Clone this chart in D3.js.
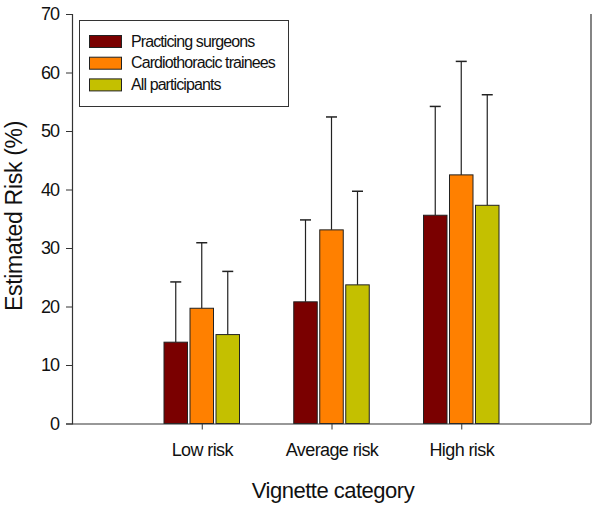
<!DOCTYPE html>
<html><head><meta charset="utf-8">
<script src="https://cdn.jsdelivr.net/npm/d3@7"></script>
<style>body{margin:0;background:#fff}svg{display:block;font-family:"Liberation Sans",Arial,sans-serif}</style>
</head><body><svg id="c" width="602" height="509"></svg>
<script>
const categories = ["Low risk", "Average risk", "High risk"];
const seriesNames = ["Practicing surgeons", "Cardiothoracic trainees", "All participants"];
const seriesColors = ["#7a0000", "#ff8000", "#c4c000"];
const surgeons = [13.9, 20.8, 35.6];
const trainees = [19.7, 33.1, 42.5];
const allParticipants = [15.2, 23.7, 37.3];
const surgeonsErr = [24.2, 34.8, 54.2];
const traineesErr = [30.9, 52.4, 61.9];
const allErr = [26.0, 39.7, 56.2];
const yTicks = [0, 10, 20, 30, 40, 50, 60, 70];

const values = [surgeons, trainees, allParticipants];
const errs = [surgeonsErr, traineesErr, allErr];

const svg = d3.select("#c");
const mLeft = 72, mRight = 591, mTop = 14, mBottom = 423.5;
const x = d3.scaleLinear().domain([0, 4]).range([mLeft, mRight]);
const y = d3.scaleLinear().domain([0, 70]).range([mBottom, mTop]);
const barW = 23.5, step = 26;

// bars
values.forEach((vals, s) => {
  const g = svg.append("g");
  g.selectAll("line.err").data(vals).enter().append("line")
    .attr("x1", (d, i) => x(i + 1) + (s - 1) * step)
    .attr("x2", (d, i) => x(i + 1) + (s - 1) * step)
    .attr("y1", d => y(d)).attr("y2", (d, i) => y(errs[s][i]))
    .attr("stroke", "#222").attr("stroke-width", 1.2);
  g.selectAll("line.cap").data(vals).enter().append("line")
    .attr("x1", (d, i) => x(i + 1) + (s - 1) * step - 5.5)
    .attr("x2", (d, i) => x(i + 1) + (s - 1) * step + 5.5)
    .attr("y1", (d, i) => y(errs[s][i])).attr("y2", (d, i) => y(errs[s][i]))
    .attr("stroke", "#222").attr("stroke-width", 1.5);
  g.selectAll("rect").data(vals).enter().append("rect")
    .attr("x", (d, i) => x(i + 1) + (s - 1) * step - barW / 2)
    .attr("width", barW)
    .attr("y", d => y(d))
    .attr("height", d => y(0) - y(d))
    .attr("fill", seriesColors[s])
    .attr("stroke", "#222").attr("stroke-width", 1);
});

// y axis
const yAxis = svg.append("g").attr("transform", `translate(${mLeft},0)`)
  .call(d3.axisLeft(y).tickValues(yTicks).tickSize(6).tickPadding(7).tickFormat(d3.format("d")));
yAxis.select(".domain").attr("stroke", "#333").attr("stroke-width", 1.2);
yAxis.selectAll(".tick line").attr("stroke", "#333");
yAxis.selectAll("text").attr("font-size", 18).attr("fill", "#111").attr("font-family", "Liberation Sans, Arial, sans-serif").attr("letter-spacing", -1);

// x axis
const xAxis = svg.append("g").attr("transform", `translate(0,${mBottom})`)
  .call(d3.axisBottom(x).tickValues([1, 2, 3]).tickSize(6).tickPadding(14).tickFormat(d => categories[d - 1]));
xAxis.select(".domain").attr("d", `M${mLeft},0.5H${mRight}`).attr("stroke", "#333").attr("stroke-width", 1.2);
xAxis.selectAll(".tick line").attr("stroke", "#333");
xAxis.selectAll("text").attr("font-size", 18).attr("fill", "#111").attr("font-family", "Liberation Sans, Arial, sans-serif").attr("letter-spacing", -0.6);

// right frame line
svg.append("line").attr("x1", mRight).attr("x2", mRight).attr("y1", mTop).attr("y2", mBottom)
  .attr("stroke", "#333").attr("stroke-width", 1.2);

// axis titles
svg.append("text").attr("x", 333).attr("y", 498).attr("text-anchor", "middle")
  .attr("font-size", 22).attr("fill", "#111").attr("letter-spacing", -0.5).text("Vignette category");
svg.append("text").attr("transform", "translate(22,216) rotate(-90)").attr("text-anchor", "middle")
  .attr("font-size", 23).attr("fill", "#111").attr("letter-spacing", -0.3).text("Estimated Risk (%)");

// legend
const lg = svg.append("g");
lg.append("rect").attr("x", 79.5).attr("y", 20.5).attr("width", 209).attr("height", 86)
  .attr("fill", "#fff").attr("stroke", "#333").attr("stroke-width", 1);
seriesNames.forEach((n, i) => {
  lg.append("rect").attr("x", 89.5).attr("y", 35.5 + i * 21.7).attr("width", 32).attr("height", 12)
    .attr("fill", seriesColors[i]).attr("stroke", "#222").attr("stroke-width", 1);
  lg.append("text").attr("x", 131).attr("y", 46.7 + i * 21.7).attr("font-size", 16).attr("fill", "#111")
    .attr("letter-spacing", -0.9).text(n);
});
</script></body></html>
